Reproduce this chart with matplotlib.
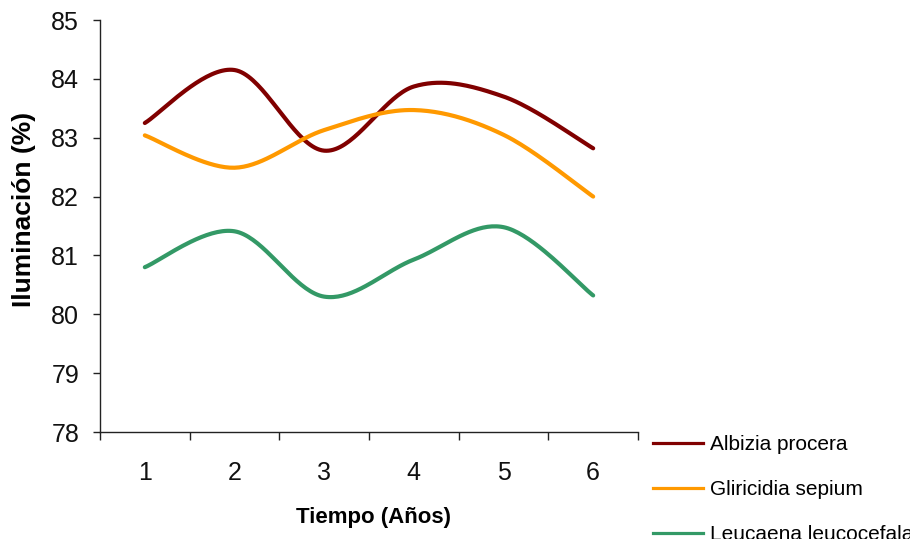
import numpy as np
import matplotlib
matplotlib.use("Agg")
import matplotlib.pyplot as plt
from matplotlib.ticker import FixedLocator

plt.rcParams["font.family"] = ["Liberation Sans", "DejaVu Sans"]

# =====================================================
# DATA
# =====================================================

years = [1, 2, 3, 4, 5, 6]

albizia = [83.25, 84.15, 82.78, 83.87, 83.70, 82.82]
gliricidia = [83.04, 82.49, 83.13, 83.47, 83.05, 82.00]
leucaena = [80.80, 81.41, 80.30, 80.93, 81.48, 80.32]

series_names = ["Albizia procera", "Gliricidia sepium", "Leucaena leucocefala"]
series_colors = ["#800000", "#FF9900", "#339966"]

y_ticks = [78, 79, 80, 81, 82, 83, 84, 85]


# =====================================================
# SMOOTH CURVE (cubic bezier through each point)
# =====================================================

def smooth(xs, ys, n=40):
    p = np.column_stack([xs, ys]).astype(float)
    ext = np.vstack([p[0], p, p[-1]])
    out = []
    t = np.linspace(0, 1, n)[:, None]
    for i in range(len(p) - 1):
        p0 = p[i]
        p3 = p[i + 1]
        c1 = p0 + (ext[i + 2] - ext[i]) / 6.0
        c2 = p3 - (ext[i + 3] - ext[i + 1]) / 6.0
        seg = ((1 - t) ** 3) * p0 + 3 * ((1 - t) ** 2) * t * c1 \
            + 3 * (1 - t) * t ** 2 * c2 + t ** 3 * p3
        out.append(seg if i == 0 else seg[1:])
    pts = np.vstack(out)
    return pts[:, 0], pts[:, 1]


# =====================================================
# FIGURE
# =====================================================

fig = plt.figure(figsize=(9.10, 5.39), dpi=100)
ax = fig.add_axes([100 / 910, 1 - 432 / 539, 538 / 910, 412 / 539])

handles = []
for vals, name, color in zip([albizia, gliricidia, leucaena],
                             series_names, series_colors):
    sx, sy = smooth(years, vals)
    ax.plot(sx, sy, color=color, lw=3.0, solid_capstyle="round")
    h, = ax.plot([], [], color=color, lw=2.3, label=name)
    handles.append(h)

ax.set_xlim(0.5, 6.5)
ax.set_ylim(78, 85)

ax.set_yticks(y_ticks)
ax.set_xticks(years)
ax.xaxis.set_minor_locator(FixedLocator(np.arange(0.5, 7.0, 1.0)))

ax.tick_params(axis="y", direction="out", length=5, width=1,
               labelsize=18, pad=10, colors="#222222", labelcolor="#111111")
ax.tick_params(axis="x", which="major", length=0, labelsize=18, pad=21,
               labelcolor="#111111")
ax.tick_params(axis="x", which="minor", direction="out", length=6,
               width=1, color="#222222")

for side in ["top", "right"]:
    ax.spines[side].set_visible(False)
for side in ["left", "bottom"]:
    ax.spines[side].set_color("#222222")
    ax.spines[side].set_linewidth(1.0)

ax.set_xlabel("Tiempo (Años)", fontsize=16, fontweight="bold")
ax.set_ylabel("Iluminación (%)", fontsize=19, fontweight="bold")
ax.xaxis.set_label_coords(0.509, -0.182)
ax.yaxis.set_label_coords(-0.119, 0.539)

fig.legend(handles=handles, loc="upper left",
           bbox_to_anchor=(653 / 910, 1 - 435 / 539),
           frameon=False, fontsize=15, handlelength=2.4, handletextpad=0.35,
           labelspacing=1.25, borderpad=0, borderaxespad=0)

fig.savefig("out.png", dpi=100)
plt.close(fig)
